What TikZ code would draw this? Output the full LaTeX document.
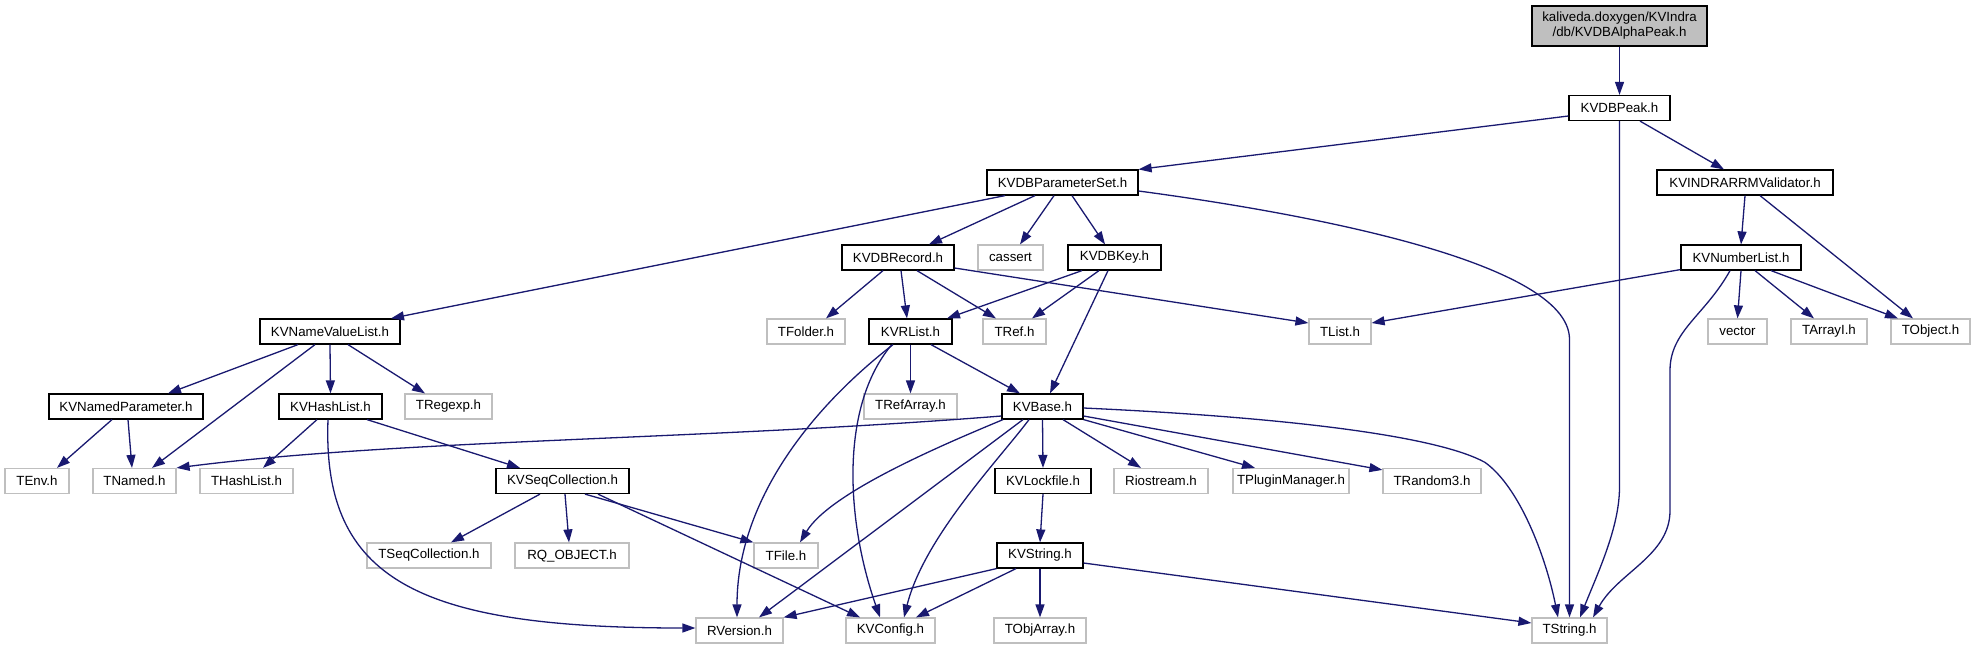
\documentclass[tikz,border=0pt]{standalone}
\usepackage{fontspec}
\setmainfont{Liberation Sans}
\usetikzlibrary{arrows.meta,calc}
\definecolor{mblue}{HTML}{191970}
\definecolor{gbox}{HTML}{BFBFBF}
\newcommand\dfont{\fontsize{13.3}{15}\selectfont}
\tikzset{
  dnode/.style={draw=black, line width=1.2pt, inner sep=0pt, minimum height=25pt, font=\dfont, rectangle},
  enode/.style={dnode, draw=gbox},
  dep/.style={draw=mblue, line width=1.3pt, -{Triangle[length=13pt,width=9pt]}, fill=none},
}
\begin{document}
\begin{tikzpicture}[x=1pt,y=-1pt]
\useasboundingbox (0,0) rectangle (1975,649);
% row 0-3
\node[dnode, minimum width=175pt, minimum height=40pt, fill=gbox, align=center] (root) at (1619.5,26) {kaliveda.doxygen/KVIndra\\/db/KVDBAlphaPeak.h};
\node[dnode, minimum width=101pt] (kvdbpeak) at (1619.5,108) {KVDBPeak.h};
\node[dnode, minimum width=151pt] (pset) at (1062.5,182.5) {KVDBParameterSet.h};
\node[dnode, minimum width=176pt] (kvindra) at (1745,182.5) {KVINDRARRMValidator.h};
\node[dnode, minimum width=112pt] (kvdbrecord) at (898,257.5) {KVDBRecord.h};
\node[enode, minimum width=65pt] (cassert) at (1010.5,257.5) {cassert};
\node[dnode, minimum width=93pt] (kvdbkey) at (1114.5,257.5) {KVDBKey.h};
\node[dnode, minimum width=120pt] (kvnl) at (1741,257.5) {KVNumberList.h};
% row 4
\node[dnode, minimum width=140pt] (nvl) at (330,331.5) {KVNameValueList.h};
\node[enode, minimum width=78pt] (tfolder) at (806,331.5) {TFolder.h};
\node[dnode, minimum width=83pt] (kvrlist) at (910.5,331.5) {KVRList.h};
\node[enode, minimum width=63pt] (tref) at (1014.5,331.5) {TRef.h};
\node[enode, minimum width=62pt] (tlist) at (1340,331.5) {TList.h};
\node[enode, minimum width=59pt] (vector) at (1737.5,331.5) {vector};
\node[enode, minimum width=76pt] (tarrayi) at (1829,331.5) {TArrayI.h};
\node[enode, minimum width=79pt] (tobject) at (1930.5,331.5) {TObject.h};
% row 5
\node[dnode, minimum width=154pt] (kvnp) at (126,406.5) {KVNamedParameter.h};
\node[dnode, minimum width=103pt] (kvhl) at (330.5,406.5) {KVHashList.h};
\node[enode, minimum width=87pt] (tregexp) at (448.5,406.5) {TRegexp.h};
\node[enode, minimum width=93pt] (trefarray) at (910.5,406.5) {TRefArray.h};
\node[dnode, minimum width=81pt] (kvbase) at (1042.5,406.5) {KVBase.h};
% row 6
\node[enode, minimum width=64pt] (tenv) at (37,481) {TEnv.h};
\node[enode, minimum width=83pt] (tnamed) at (134.5,481) {TNamed.h};
\node[enode, minimum width=93pt] (thashlist) at (246.5,481) {THashList.h};
\node[dnode, minimum width=133pt] (kvseq) at (562.5,481) {KVSeqCollection.h};
\node[dnode, minimum width=96pt] (kvlockfile) at (1043,481) {KVLockfile.h};
\node[enode, minimum width=94pt] (riostream) at (1161,481) {Riostream.h};
\node[enode, minimum width=116pt] (tplugin) at (1291,481) {TPluginManager.h};
\node[enode, minimum width=98pt] (trandom3) at (1432,481) {TRandom3.h};
% row 7
\node[enode, minimum width=124pt] (tseqcoll) at (429,555.5) {TSeqCollection.h};
\node[enode, minimum width=114pt] (rqobject) at (572,555.5) {RQ\_OBJECT.h};
\node[enode, minimum width=64pt] (tfile) at (786,555.5) {TFile.h};
\node[dnode, minimum width=86pt] (kvstring) at (1040,555.5) {KVString.h};
% row 8
\node[enode, minimum width=87pt] (rversion) at (739.5,630.5) {RVersion.h};
\node[enode, minimum width=89pt] (kvconfig) at (890.5,630.5) {KVConfig.h};
\node[enode, minimum width=92pt] (tobjarray) at (1040,630.5) {TObjArray.h};
\node[enode, minimum width=75pt] (tstring) at (1569.5,630.5) {TString.h};
% edges
\draw[dep] (root) -- (kvdbpeak);
\draw[dep] ($(kvdbpeak.west)+(0,8)$) -- (pset.north east);
\draw[dep] (kvdbpeak.south) -- ($(kvdbpeak.south)+(0,366)$) .. controls +(0,40) and +(18,-45) .. ($(tstring.north)+(10.5,0)$);
\draw[dep] ($(kvdbpeak.south)+(20.5,0)$) -- ($(kvindra.north)+(-21,0)$);
\draw[dep] (kvindra.south) -- (kvnl.north);
\draw[dep] ($(kvindra.south)+(15,0)$) -- ($(tobject.north)+(-17.5,0)$);
\draw[dep] ($(kvnl.south west)+(0,-1)$) -- ($(tlist.east)+(0,-8.5)$);
\draw[dep] (kvnl.south) -- (vector.north);
\draw[dep] ($(kvnl.south)+(14,0)$) -- ($(tarrayi.north)+(-15,0)$);
\draw[dep] ($(kvnl.south)+(30,0)$) -- ($(tobject.north)+(-32.5,0)$);
\draw[dep] ($(kvnl.south)+(-11,0)$) .. controls +(-25,45) and +(0,-40) .. ($(kvnl.south)+(-71,100)$) -- ($(kvnl.south)+(-71,240)$) .. controls +(0,45) and +(25,-45) .. ($(tstring.north)+(23.5,0)$);
\draw[dep] ($(pset.south)+(-57.5,0)$) -- ($(nvl.north)+(61,0)$);
\draw[dep] ($(pset.south)+(-27.5,0)$) -- ($(kvdbrecord.north)+(31,0)$);
\draw[dep] ($(pset.south)+(-8.5,0)$) -- ($(cassert.north)+(9.5,0)$);
\draw[dep] ($(pset.south)+(9.5,0)$) -- ($(kvdbkey.north)+(-9.5,0)$);
\draw[dep] ($(pset.east)+(0,8.5)$) .. controls +(150,20) and +(0,-80) .. ($(tstring.north)+(0,-278)$) -- (tstring.north);
\draw[dep] ($(kvdbrecord.south)+(-15,0)$) -- ($(tfolder.north)+(20,0)$);
\draw[dep] ($(kvdbrecord.south)+(3,0)$) -- ($(kvrlist.north)+(-3.5,0)$);
\draw[dep] ($(kvdbrecord.south)+(19,0)$) -- ($(tref.north)+(-18.5,0)$);
\draw[dep] ($(kvdbrecord.east)+(0,10.5)$) -- ($(tlist.west)+(0,-8.5)$);
\draw[dep] ($(kvdbkey.south)+(-32.5,0)$) -- ($(kvrlist.north)+(36.5,0)$);
\draw[dep] ($(kvdbkey.south)+(-15.5,0)$) -- ($(tref.north)+(17.5,0)$);
\draw[dep] ($(kvdbkey.south)+(-6.5,0)$) -- ($(kvbase.north)+(7.5,0)$);
\draw[dep] (kvrlist.south) -- (trefarray.north);
\draw[dep] ($(kvrlist.south)+(20.5,0)$) -- ($(kvbase.north)+(-22.5,0)$);
\draw[dep] ($(kvrlist.south)+(-17.5,0)$) .. controls +(-90,70) and +(0,-110) .. ($(rversion.north)+(-2.5,0)$);
\draw[dep] ($(kvrlist.south)+(-19.5,1)$) .. controls +(-50,60) and +(-35,-100) .. ($(kvconfig.north)+(-10.5,0)$);
\draw[dep] ($(nvl.south)+(-32,0)$) -- ($(kvnp.north)+(42,0)$);
\draw[dep] ($(nvl.south)+(-15,0)$) -- ($(tnamed.north)+(17.5,0)$);
\draw[dep] (nvl.south) -- (kvhl.north);
\draw[dep] ($(nvl.south)+(18,0)$) -- ($(tregexp.north)+(-23.5,0)$);
\draw[dep] ($(kvnp.south)+(-14,0)$) -- ($(tenv.north)+(20,0)$);
\draw[dep] ($(kvnp.south)+(2,0)$) -- ($(tnamed.north)+(-2.5,0)$);
\draw[dep] ($(kvhl.south)+(-13.5,0)$) -- ($(thashlist.north)+(16.5,0)$);
\draw[dep] ($(kvhl.south)+(36.5,0)$) -- ($(kvseq.north)+(-42.5,0)$);
\draw[dep] ($(kvhl.south)+(-2.5,0)$) .. controls +(-6,161) and +(-276,0) .. ($(rversion.west)+(0,-2.5)$);
\draw[dep] ($(kvseq.south)+(-22.5,0)$) -- ($(tseqcoll.north)+(22,0)$);
\draw[dep] ($(kvseq.south)+(2.5,0)$) -- ($(rqobject.north)+(-3,0)$);
\draw[dep] ($(kvseq.south)+(22.5,0)$) -- (tfile.north west);
\draw[dep] ($(kvseq.south)+(35.5,0)$) -- ($(kvconfig.north)+(-30.5,0)$);
\draw[dep] ($(kvbase.west)+(0,9.5)$) .. controls +(-302,24) and +(224,-28.5) .. (tnamed.north east);
\draw[dep] ($(kvbase.south)+(-39.5,0)$) .. controls +(-60,25) and +(30,-50) .. ($(tfile.north)+(14,0)$);
\draw[dep] ($(kvbase.south)+(-19.5,0)$) -- ($(rversion.north)+(19.5,0)$);
\draw[dep] ($(kvbase.south)+(-13.5,0)$) .. controls +(-30,40) and +(20,-80) .. ($(kvconfig.north)+(13.5,0)$);
\draw[dep] (kvbase.south) -- (kvlockfile.north);
\draw[dep] ($(kvbase.south)+(20.5,0)$) -- ($(riostream.north)+(-20,0)$);
\draw[dep] (kvbase.south east) -- ($(tplugin.north)+(-36,0)$);
\draw[dep] ($(kvbase.east)+(0,9.5)$) -- ($(trandom3.north west)+(0,2)$);
\draw[dep] ($(kvbase.east)+(0,1.5)$) .. controls +(217,10) and +(-45,-25) .. ($(tstring.north)+(-84.5,-155)$) .. controls +(35,25) and +(-12,-60) .. ($(tstring.north)+(-11.5,0)$);
\draw[dep] (kvlockfile.south) -- (kvstring.north);
\draw[dep] (kvstring.south west) -- (rversion.north east);
\draw[dep] ($(kvstring.south)+(-24,0)$) -- ($(kvconfig.north)+(25.5,0)$);
\draw[dep] (kvstring.south) -- (tobjarray.north);
\draw[dep] ($(kvstring.east)+(0,7.5)$) -- ($(tstring.west)+(0,-7.5)$);
\end{tikzpicture}
\end{document}
